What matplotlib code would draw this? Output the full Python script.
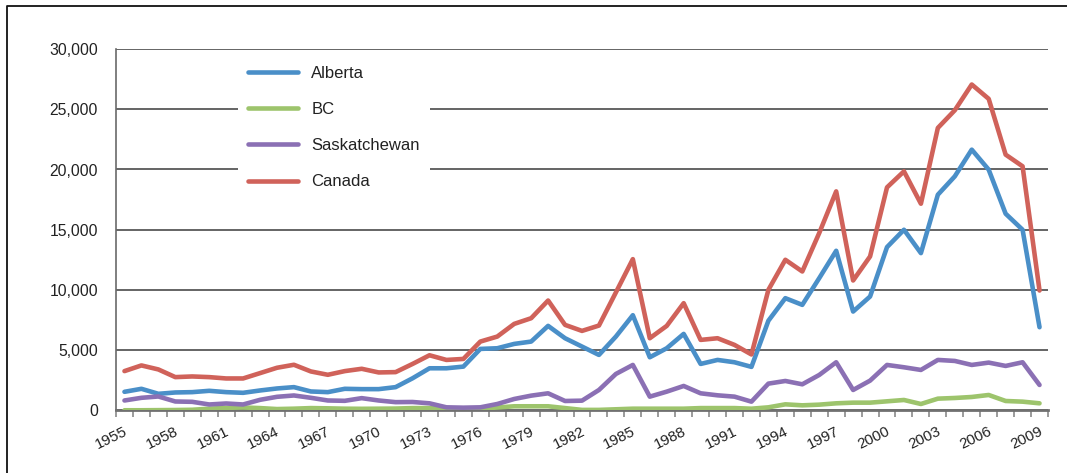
import matplotlib.pyplot as plt
import numpy as np
from matplotlib.lines import Line2D
from matplotlib.ticker import FuncFormatter
from matplotlib.transforms import ScaledTranslation

# Data #

years = list(range(1955, 2010))

alberta = [1551, 1800, 1385, 1496, 1524, 1634, 1524, 1468, 1662, 1828, 1939, 1579, 1524, 1800, 1773, 1773, 1939,
           2673, 3504, 3504, 3643, 5111, 5166, 5526, 5720, 7022, 5997, 5305, 4612, 6136, 7908, 4418, 5166, 6357,
           3864, 4197, 4003, 3620, 7450,
           9321, 8767, 10984, 13254, 8213, 9460, 13559, 15000, 13061, 17908, 19432, 21648, 19986, 16330, 15000, 6911]

bc = [20, 20, 30, 40, 60, 150, 220, 250, 200, 120, 150, 200, 180, 150, 140, 150, 160,
      200, 200, 150, 100, 150, 250, 350, 350, 350, 200, 50, 50, 100, 150, 150, 150, 150, 200, 200, 200, 150, 263,
      512, 429, 485, 596, 651, 651, 762, 873, 540, 983, 1039, 1122, 1288, 789, 734, 596]

saskatchewan = [831, 1053, 1163, 748, 720, 499, 582, 499, 886, 1136, 1247, 1053, 831, 803, 1025, 831, 693,
                706, 596, 263, 235, 263, 540, 956, 1233, 1427, 789, 817, 1704, 3033, 3781, 1150, 1565, 2036,
                1427, 1260, 1150, 734, 2230,
                2451, 2174, 2950, 4003, 1704, 2479, 3781, 3587, 3366, 4197, 4113, 3781, 3975, 3698, 4003, 2119]

canada = [3269, 3740, 3407, 2770, 2825, 2770, 2659, 2659, 3102, 3546, 3795, 3241, 2964, 3269, 3462, 3158, 3185,
          3864, 4584, 4197, 4280, 5720, 6136, 7188, 7659, 9127, 7105, 6606, 7050, 9800, 12562, 5997, 7022, 8906,
          5859, 5997, 5443, 4650, 10014,
          12507, 11537, 14730, 18185, 10790, 12784, 18517, 19847, 17160, 23450, 24916, 27054, 25864, 21234, 20265, 9958]

series_names = ['Alberta', 'BC', 'Saskatchewan', 'Canada']
series_colors = ['#4a8fc8', '#9dc46c', '#8b70b4', '#d0625a']

plt.rcParams['font.family'] = ['Liberation Sans', 'DejaVu Sans']

fig = plt.figure(figsize=(10.67, 4.73), dpi=100)
ax = fig.add_axes([116 / 1067, 1 - 410.5 / 473, (1048 - 116) / 1067, (410.5 - 49) / 473])

x = np.arange(len(years))
for vals, name, col in zip([alberta, bc, saskatchewan, canada], series_names, series_colors):
    ax.plot(x, vals, color=col, lw=3.3, label=name, solid_capstyle='round', solid_joinstyle='round', zorder=3)

ax.set_xlim(-0.5, len(years) - 0.5)
ax.set_ylim(0, 30000)
ax.set_yticks(range(0, 30001, 5000))
ax.yaxis.set_major_formatter(FuncFormatter(lambda v, p: f'{int(v):,}'))
ax.grid(axis='y', color='#4a4a4a', lw=1.2, zorder=1)
ax.tick_params(axis='y', length=0, pad=13, labelsize=11.3, colors='#222222')

# labels every 3 years, small ticks on category boundaries #
ax.set_xticks(x[::3])
ax.set_xticklabels([str(y) for y in years[::3]], rotation=26, ha='right')
ax.set_xticks(np.arange(len(years) + 1) - 0.5, minor=True)
ax.tick_params(axis='x', which='major', length=0, pad=10, labelsize=10.9, colors='#222222')
ax.tick_params(axis='x', which='minor', length=5, width=1.2, color='#8a8a8a')
shift = ScaledTranslation(5 / 100, 0, fig.dpi_scale_trans)
for lab in ax.get_xticklabels():
    lab.set_transform(lab.get_transform() + shift)

for s in ['top', 'right']:
    ax.spines[s].set_visible(False)
ax.spines['left'].set_color('#6a6a6a')
ax.spines['left'].set_linewidth(1.2)
ax.spines['bottom'].set_color('#707070')
ax.spines['bottom'].set_linewidth(2.0)

leg = ax.legend(loc='upper left', bbox_to_anchor=(238 / 1067, 1 - 56 / 473), bbox_transform=fig.transFigure,
                frameon=True, fontsize=12, handlelength=3.0, handletextpad=0.8, labelspacing=1.27,
                borderpad=0.6, borderaxespad=0)
leg.get_frame().set_facecolor('white')
leg.get_frame().set_edgecolor('none')
leg.get_frame().set_alpha(1)
leg.set_zorder(5)
for t in leg.get_texts():
    t.set_color('#222222')

# outer frame (left and top edges only visible in the original) #
fig.add_artist(Line2D([6.5 / 1067, 6.5 / 1067, 1.0], [0.0, 1 - 6.5 / 473, 1 - 6.5 / 473],
                      transform=fig.transFigure, color='#111111', lw=1.3))

fig.savefig('out.png', dpi=100)
